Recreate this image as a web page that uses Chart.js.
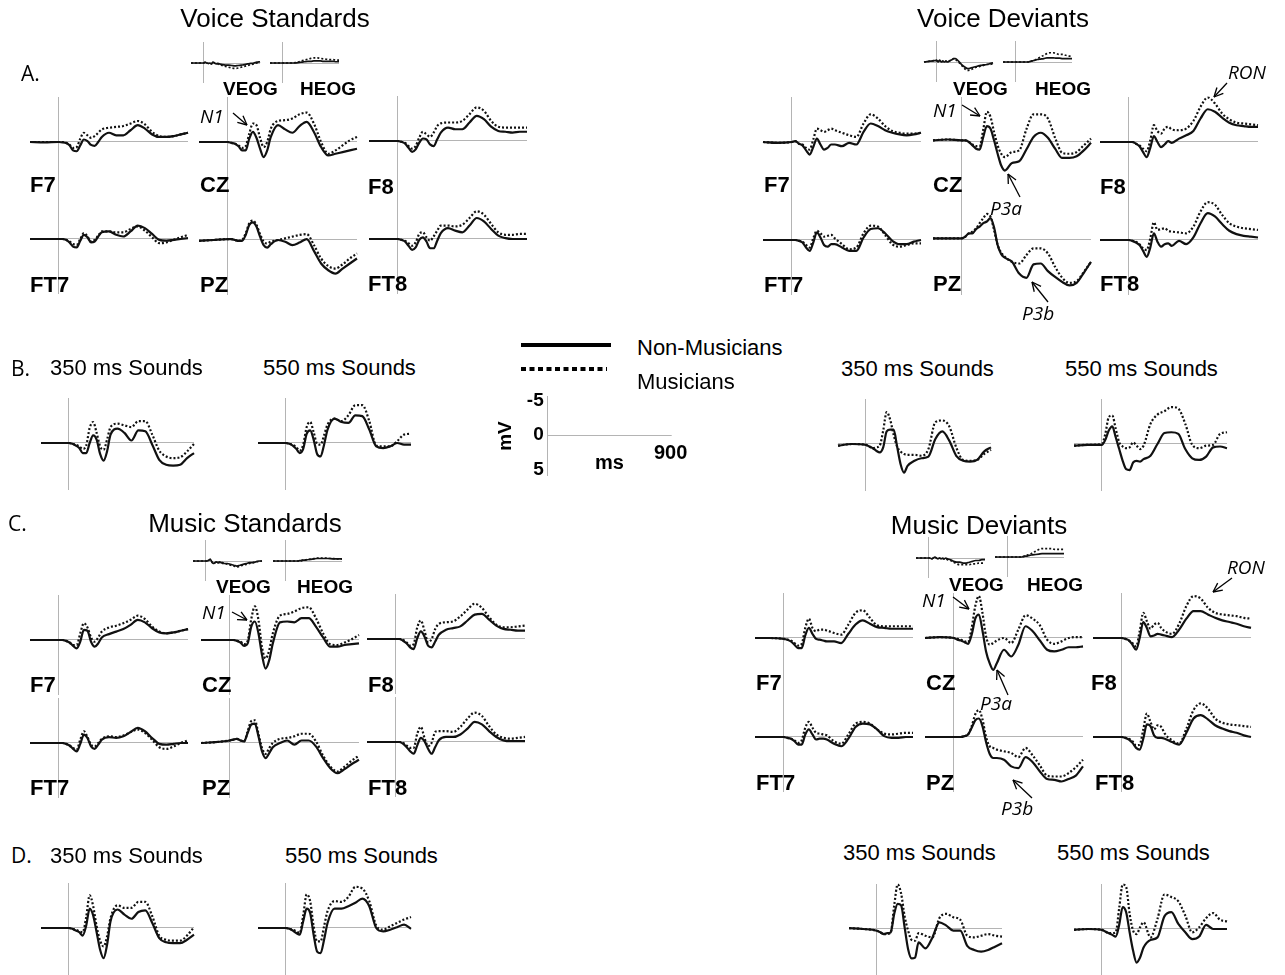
<!DOCTYPE html>
<html>
<head>
<meta charset="utf-8">
<script src="https://cdn.jsdelivr.net/npm/chart.js@4.4.0/dist/chart.umd.min.js"></script>
<style>
body { margin: 0; background: #fff; }
#page { position: relative; width: 1285px; height: 975px; overflow: hidden; font-family: "Liberation Sans", Arial, sans-serif; color: #000; }
#page canvas { position: absolute; }
.t { position: absolute; white-space: nowrap; line-height: 1; transform: translateY(-50%); }
.title { font-size: 26px; transform: translate(-50%, -50%); }
.sub { font-size: 22px; }
.letter { font-family: "Open Sans", sans-serif; font-size: 21px; }
.el { font-size: 22px; font-weight: bold; }
.eog { font-size: 19px; font-weight: bold; }
.ann { font-family: "Open Sans", sans-serif; font-style: italic; font-size: 19px; }
.bar { font-size: 20px; font-weight: bold; }
svg { position: absolute; left: 0; top: 0; }
</style>
</head>
<body>
<div id="page"></div>
<script>
// sample times (ms) shared by every waveform
const times = [-200, -100, 0, 25, 50, 75, 100, 125, 150, 175, 200, 225, 250, 275, 300, 350, 400, 450, 500, 550, 600, 650, 700, 750, 800, 850, 900];

// amplitudes in microvolts, negative up. Non = non-musicians (solid), Mus = musicians (dotted)
// Voice standards
const vsF7Non = [0, 0.05, 0, 0.05, 0.1, 0.4, 1.0, 1.1, 0.4, -0.3, -0.1, 0.35, 0.45, 0.0, -0.6, -1.1, -0.8, -0.8, -1.4, -2.0, -1.6, -0.9, -0.6, -0.6, -0.7, -0.9, -1.1];
const vsF7Mus = [0, 0, 0, 0, 0.1, 0.3, 0.7, 0.6, -0.4, -1.1, -0.8, -0.5, -0.7, -1.1, -1.5, -1.7, -1.8, -1.9, -2.2, -2.5, -2.1, -1.2, -0.7, -0.6, -0.7, -0.9, -1.1];
const vsCZNon = [0, 0, 0, 0.1, 0.2, 0.5, 1.0, 1.0, -0.4, -1.2, -0.5, 0.8, 1.8, 1.0, -0.6, -2.0, -1.5, -1.1, -1.9, -2.4, -1.2, 0.6, 1.6, 1.4, 1.2, 1.0, 0.8];
const vsCZMus = [0, 0, 0, 0.1, 0.2, 0.4, 0.7, 0.5, -1.0, -2.2, -2.0, -0.5, 0.6, 0.0, -1.6, -2.5, -2.6, -2.8, -3.3, -3.5, -2.2, 0.0, 1.4, 1.0, 0.4, -0.2, -0.6];
const vsF8Non = [0, 0, 0, 0.1, 0.3, 0.8, 1.3, 1.0, 0.2, -0.3, -0.2, 0.4, 0.6, -0.2, -1.0, -1.6, -1.4, -1.4, -2.2, -3.0, -2.6, -1.7, -1.2, -1.1, -1.0, -1.1, -1.1];
const vsF8Mus = [0, 0, 0, 0.1, 0.2, 0.6, 0.9, 0.6, -0.4, -1.1, -0.8, -0.5, -1.0, -1.8, -2.1, -2.2, -2.2, -2.4, -3.2, -4.0, -3.6, -2.4, -1.7, -1.6, -1.6, -1.6, -1.6];
const vsFT7Non = [0, 0, 0, 0, 0.1, 0.4, 0.9, 1.0, 0.2, -0.5, -0.2, 0.4, 0.3, -0.3, -0.8, -0.9, -0.5, -0.3, -0.9, -1.6, -1.3, -0.6, 0.1, 0.2, 0.1, 0.0, -0.1];
const vsFT7Mus = [0, 0, 0, 0, 0.1, 0.3, 0.6, 0.7, 0.0, -0.7, -0.3, 0.3, 0.1, -0.4, -0.9, -0.9, -0.8, -0.8, -1.2, -1.5, -1.0, -0.2, 0.5, 0.4, 0.1, -0.2, -0.5];
const vsPZNon = [0.1, 0, -0.1, -0.1, 0, 0.1, 0.1, -0.6, -1.8, -2.1, -1.6, -0.4, 0.6, 0.9, 0.5, 0.0, 0.2, 0.6, 0.3, -0.1, 1.3, 2.8, 3.6, 4.0, 3.4, 2.8, 2.2];
const vsPZMus = [0.1, 0, -0.1, -0.1, 0, 0.1, 0.0, -0.8, -2.0, -2.3, -1.8, -0.7, 0.2, 0.4, 0.2, 0.0, -0.2, -0.4, -0.6, -0.7, 0.6, 2.2, 3.1, 3.4, 2.9, 2.2, 1.6];
const vsFT8Non = [0, 0, 0, 0.1, 0.3, 0.8, 1.3, 1.0, 0.1, -0.2, 0.3, 1.1, 1.1, 0.2, -0.7, -1.3, -1.0, -0.8, -1.6, -2.5, -2.1, -1.2, -0.4, -0.1, 0, 0, 0];
const vsFT8Mus = [0, 0, 0, 0.1, 0.2, 0.5, 0.8, 0.4, -0.6, -0.8, -0.2, 0.2, -0.3, -1.0, -1.6, -1.6, -1.5, -1.7, -2.5, -3.3, -2.9, -1.8, -0.8, -0.5, -0.5, -0.6, -0.6];
const vsVEOGNon = [0, 0, 0, -0.1, 0, 0.05, 0, 0.1, -0.1, 0, 0.1, 0.05, 0.1, 0.15, 0.2, 0.25, 0.25, 0.3, 0.35, 0.3, 0.25, 0.2, 0.1, 0.05, 0, -0.1, -0.15];
const vsVEOGMus = [0, 0, 0, -0.1, 0, 0.05, 0, 0.1, -0.1, 0, 0.1, 0.1, 0.2, 0.25, 0.3, 0.4, 0.5, 0.6, 0.65, 0.6, 0.5, 0.4, 0.3, 0.2, 0.1, 0, -0.1];
const vsHEOGNon = [0, 0, 0, 0, 0, 0, 0, 0, 0, 0, 0, -0.02, -0.05, -0.08, -0.1, -0.15, -0.2, -0.2, -0.25, -0.25, -0.25, -0.2, -0.2, -0.2, -0.2, -0.15, -0.15];
const vsHEOGMus = [0, 0, 0, 0, 0, 0, 0, 0, 0, 0, -0.05, -0.07, -0.1, -0.18, -0.25, -0.35, -0.45, -0.55, -0.6, -0.6, -0.55, -0.5, -0.45, -0.4, -0.4, -0.35, -0.35];
const vsS350Non = [0, 0, 0, 0.1, 0.3, 0.6, 1.2, 1.2, 0.0, -0.9, -0.4, 1.3, 2.1, 1.0, -1.0, -1.7, -1.2, -0.3, -1.5, -1.4, 0.2, 2.0, 2.6, 2.7, 2.6, 1.8, 1.2];
const vsS350Mus = [0, 0, 0, 0.1, 0.2, 0.4, 0.7, 0.3, -1.8, -2.5, -1.2, 0.4, 0.8, -0.4, -1.9, -2.3, -2.1, -1.9, -2.6, -2.6, -1.0, 0.9, 1.6, 1.8, 1.7, 1.0, 0.1];
const vsS550Non = [0, 0, 0, 0.1, 0.3, 0.7, 1.2, 0.7, -1.1, -1.5, -0.4, 1.3, 1.6, 0.2, -1.6, -2.9, -2.5, -2.4, -3.3, -3.2, -1.6, 0.4, 0.6, 0.4, 0.0, 0.2, 0.2];
const vsS550Mus = [0, 0, 0, 0.1, 0.2, 0.5, 0.9, 0.2, -1.9, -2.5, -1.3, 0.1, 0.2, -0.9, -2.2, -2.9, -2.6, -3.3, -4.5, -4.5, -2.6, 0.3, 0.4, 0.4, -0.2, -1.0, -1.1];

// Voice deviants
const vdF7Non = [0, 0.1, 0, -0.1, 0.2, 0.4, 1.0, 1.5, 0.6, -0.4, 0.3, 0.9, 0.7, 0.3, 0.3, 0.5, 0.1, 0.3, -1.2, -2.2, -1.9, -1.4, -1.1, -0.9, -0.8, -0.9, -1.1];
const vdF7Mus = [0, 0.1, 0, -0.1, 0.2, 0.3, 0.7, 0.9, -0.3, -1.6, -1.4, -1.2, -1.4, -1.6, -1.4, -1.1, -0.8, -0.6, -2.2, -3.3, -2.8, -1.9, -1.3, -1.1, -1.0, -1.0, -1.1];
const vdCZNon = [-0.2, -0.3, -0.2, -0.2, 0.0, 0.4, 0.8, 0.9, -0.6, -1.9, -1.6, -0.2, 1.4, 2.8, 3.4, 2.5, 2.3, 0.9, -0.6, -1.1, -0.5, 0.8, 1.9, 1.9, 1.7, 1.0, 0.1];
const vdCZMus = [-0.2, -0.3, -0.2, -0.2, 0.0, 0.3, 0.5, 0.5, -1.5, -3.6, -3.0, -1.2, 0.4, 1.4, 1.8, 1.2, 1.0, -1.5, -3.3, -3.3, -2.8, -0.5, 1.3, 1.4, 1.2, 0.4, -0.4];
const vdF8Non = [0, 0, 0, 0, 0.2, 0.5, 1.2, 1.8, 0.7, -0.7, 0.0, 0.6, 0.3, -0.1, 0.1, -0.4, -0.8, -1.3, -2.8, -3.9, -3.6, -2.9, -2.3, -2.0, -1.9, -1.8, -1.8];
const vdF8Mus = [0, 0, 0, 0, 0.2, 0.4, 0.8, 1.1, -0.2, -2.0, -1.3, -1.0, -1.6, -1.8, -1.5, -1.4, -1.6, -2.5, -4.2, -5.3, -4.6, -3.4, -2.7, -2.3, -2.2, -2.1, -2.0];
const vdFT7Non = [0, 0, 0, 0, 0.1, 0.3, 0.9, 1.3, 0.3, -0.9, -0.3, 0.6, 0.8, 0.5, 0.5, 0.9, 1.3, 1.3, -0.3, -1.3, -1.4, -0.8, 0.1, 0.5, 0.5, 0.2, 0.0];
const vdFT7Mus = [0, 0, 0, 0, 0.1, 0.2, 0.6, 0.9, -0.2, -1.1, -0.8, -0.4, -0.5, -0.6, -0.2, 0.5, 1.1, 0.9, -0.8, -1.7, -1.6, -0.6, 0.5, 0.8, 0.6, 0.4, 0.4];
const vdPZNon = [-0.2, -0.2, -0.2, -0.4, -0.8, -0.8, -1.3, -1.6, -2.0, -2.2, -2.6, -1.5, 0.6, 1.7, 2.1, 2.6, 4.0, 4.5, 2.9, 2.8, 3.7, 4.4, 5.0, 5.4, 5.1, 3.9, 2.6];
const vdPZMus = [-0.2, -0.2, -0.2, -0.4, -0.8, -1.0, -1.4, -2.0, -2.6, -3.1, -2.8, -1.2, 0.6, 1.5, 2.0, 2.6, 2.8, 1.8, 1.0, 1.0, 1.6, 3.2, 4.5, 5.1, 4.9, 3.8, 2.6];
const vdFT8Non = [0, 0, 0, 0.1, 0.3, 0.6, 1.3, 2.0, 0.9, -0.8, 0.2, 0.8, 0.5, 0.4, 0.7, 0.1, 0.5, -0.3, -2.0, -3.2, -2.8, -1.9, -1.1, -0.7, -0.5, -0.4, -0.3];
const vdFT8Mus = [0, 0, 0, 0.1, 0.2, 0.5, 1.0, 1.2, -0.2, -2.1, -1.2, -1.3, -1.4, -1.1, -1.0, -0.9, -0.8, -1.6, -3.4, -4.5, -4.2, -3.0, -2.0, -1.6, -1.4, -1.3, -1.2];
const vdVEOGNon = [0, -0.1, -0.2, 0, -0.2, 0, -0.1, 0, -0.1, 0, -0.1, -0.2, -0.3, -0.4, -0.4, -0.1, 0.3, 0.6, 0.8, 0.7, 0.6, 0.5, 0.4, 0.35, 0.3, 0.2, 0.1];
const vdVEOGMus = [0, -0.1, -0.2, 0, -0.2, 0, -0.1, 0, -0.1, 0, -0.1, -0.2, -0.3, -0.4, -0.3, 0.0, 0.4, 0.8, 1.0, 0.9, 0.7, 0.6, 0.5, 0.4, 0.3, 0.3, 0.2];
const vdHEOGNon = [0, 0, 0, 0, 0, 0, 0, 0, 0, 0, 0, -0.05, -0.1, -0.15, -0.2, -0.3, -0.35, -0.4, -0.5, -0.5, -0.5, -0.45, -0.45, -0.4, -0.4, -0.4, -0.4];
const vdHEOGMus = [0, 0, 0, 0, 0, 0, 0, 0, 0, 0, 0, -0.05, -0.1, -0.15, -0.2, -0.4, -0.6, -0.8, -1.0, -1.1, -1.1, -1.0, -0.9, -0.9, -0.8, -0.7, -0.7];
const vdS350Non = [0.2, 0.0, 0.1, 0.3, 0.5, 0.8, 1.0, 0.4, -1.5, -1.7, -1.7, 0.3, 2.4, 3.4, 2.6, 2.0, 1.7, 1.5, -0.6, -1.5, -0.4, 1.4, 2.0, 2.1, 1.9, 0.9, 0.4];
const vdS350Mus = [0.2, 0, 0.1, 0.3, 0.5, 0.4, 0.2, -1.6, -3.8, -2.9, -1.1, 0.3, 0.9, 1.2, 1.3, 1.3, 1.4, 0.6, -2.6, -2.8, -2.1, 0.4, 1.9, 2.0, 1.9, 1.2, 0.7];
const vdS550Non = [0.2, 0.1, 0.1, -0.5, -1.6, -2.1, -0.8, 0.6, 2.0, 3.0, 3.1, 2.2, 2.0, 2.1, 1.8, 1.4, 0.0, -1.3, -1.4, -1.2, 0.6, 1.7, 1.9, 1.5, 0.4, 0.3, 0.5];
const vdS550Mus = [0.2, 0.1, 0.0, -1.2, -3.2, -3.4, -1.8, -0.2, 0.3, 0.5, 0.4, -0.2, 0.2, 0.6, 0.2, -2.4, -3.5, -3.9, -4.4, -4.2, -2.4, 0.1, 0.5, 0.2, 0.1, -1.2, -1.4];

// Music standards
const msF7Non = [0, 0, 0, 0, 0.1, 0.3, 0.7, 1.0, 0.2, -1.2, -1.1, 0.2, 0.8, 0.4, -0.3, -0.7, -1.0, -1.3, -1.8, -2.4, -2.1, -1.4, -0.9, -0.8, -0.9, -1.1, -1.3];
const msF7Mus = [0, 0, 0, 0, 0.1, 0.3, 0.6, 0.6, -0.8, -2.0, -1.5, -0.3, 0.2, -0.3, -1.0, -1.5, -1.7, -2.0, -2.4, -2.9, -2.5, -1.6, -1.0, -0.8, -0.9, -1.1, -1.3];
const msCZNon = [0, 0, 0, 0, 0.1, 0.3, 0.7, 0.4, -1.6, -2.2, -0.8, 1.8, 3.4, 2.4, 0.4, -2.1, -2.2, -2.1, -2.6, -2.6, -1.6, -0.3, 0.8, 0.8, 0.6, 0.5, 0.4];
const msCZMus = [0, 0, 0, 0, 0.1, 0.2, 0.5, 0.1, -2.5, -4.0, -2.4, 0.9, 2.2, 1.2, -0.8, -2.9, -3.1, -3.4, -3.8, -3.9, -2.6, -0.8, 0.5, 0.6, 0.3, -0.1, -0.6];
const msF8Non = [0, 0, 0, 0, 0.2, 0.5, 1.0, 1.2, -0.1, -0.9, -0.3, 0.8, 1.0, 0.3, -0.5, -1.1, -1.3, -1.5, -2.2, -2.9, -3.0, -2.3, -1.6, -1.2, -1.1, -1.0, -1.0];
const msF8Mus = [0, 0, 0, 0, 0.1, 0.4, 0.8, 0.6, -1.4, -2.2, -1.0, 0.4, 0.0, -1.2, -1.8, -2.0, -2.1, -2.7, -3.5, -4.2, -3.7, -2.6, -1.7, -1.4, -1.4, -1.5, -1.6];
const msFT7Non = [0, 0, 0, 0, 0.1, 0.3, 0.7, 1.0, 0.1, -1.0, -0.6, 0.4, 0.7, 0.2, -0.4, -0.7, -0.6, -0.8, -1.3, -1.8, -1.4, -0.6, 0.1, 0.2, 0.1, 0.0, 0.0];
const msFT7Mus = [0, 0, 0, 0, 0.1, 0.3, 0.6, 0.8, -0.4, -1.4, -0.7, 0.2, 0.4, 0.0, -0.5, -0.8, -0.7, -0.9, -1.3, -1.6, -1.2, -0.4, 0.5, 0.7, 0.4, 0.0, -0.3];
const msPZNon = [0, -0.1, -0.3, -0.4, -0.5, -0.3, -0.2, -1.2, -2.2, -2.3, -0.8, 1.0, 1.8, 1.2, 0.5, 0.0, -0.3, 0.2, -0.3, -0.3, 0.4, 1.8, 3.0, 3.6, 3.1, 2.5, 2.0];
const msPZMus = [0, -0.1, -0.3, -0.4, -0.5, -0.3, -0.2, -1.4, -2.6, -2.7, -1.1, 0.6, 1.3, 0.6, 0.0, -0.5, -0.6, -0.8, -1.1, -1.1, -0.2, 1.5, 2.8, 3.4, 2.8, 2.1, 1.5];
const msFT8Non = [0, 0, 0, 0, 0.2, 0.6, 1.1, 1.4, 0.4, -0.5, -0.1, 0.8, 1.4, 0.6, -0.2, -0.6, -0.6, -0.9, -1.6, -2.4, -2.1, -1.3, -0.6, -0.2, -0.1, -0.1, -0.1];
const msFT8Mus = [0, 0, 0, 0, 0.1, 0.4, 0.7, 0.7, -1.0, -1.8, -0.5, 0.5, 0.1, -1.2, -1.3, -1.3, -1.2, -1.8, -2.8, -3.5, -3.1, -1.9, -0.9, -0.5, -0.4, -0.5, -0.6];
const msVEOGNon = [0, 0, 0, 0, -0.1, -0.2, 0.1, 0.3, 0.2, 0.1, 0.2, 0.1, 0.2, 0.2, 0.3, 0.3, 0.4, 0.5, 0.6, 0.5, 0.4, 0.3, 0.2, 0.2, 0.1, 0, 0];
const msVEOGMus = [0, 0, 0, 0, -0.1, -0.2, 0.1, 0.3, 0.2, 0.1, 0.2, 0.2, 0.2, 0.3, 0.3, 0.4, 0.5, 0.6, 0.7, 0.6, 0.5, 0.4, 0.3, 0.2, 0.1, 0.05, 0];
const msHEOGNon = [0, 0, 0, 0, 0, 0, 0, 0, 0, 0, 0, -0.05, -0.05, -0.1, -0.1, -0.15, -0.2, -0.25, -0.3, -0.3, -0.3, -0.3, -0.3, -0.25, -0.25, -0.25, -0.25];
const msHEOGMus = [0, 0, 0, 0, 0, 0, 0, 0, 0, 0, 0, -0.05, -0.05, -0.1, -0.12, -0.18, -0.22, -0.28, -0.35, -0.35, -0.35, -0.35, -0.3, -0.3, -0.25, -0.25, -0.25];
const msS350Non = [0, 0, 0, 0.1, 0.3, 0.5, 0.9, -0.3, -2.3, -1.5, 0.5, 2.6, 3.6, 2.0, -0.8, -2.2, -1.6, -1.1, -1.9, -2.1, -0.6, 1.2, 1.7, 1.8, 1.8, 1.4, 0.8];
const msS350Mus = [0, 0, 0, 0.1, 0.2, 0.4, 0.5, -1.3, -3.9, -2.6, -0.2, 1.5, 2.2, 1.0, -1.2, -2.7, -2.4, -2.4, -3.1, -3.1, -1.4, 0.9, 1.4, 1.5, 1.5, 0.9, -0.1];
const msS550Non = [0, 0, 0, 0.1, 0.3, 0.6, 0.8, -0.8, -2.3, -1.8, 0.8, 2.8, 3.0, 1.4, -0.6, -2.3, -2.3, -2.6, -3.0, -3.5, -2.6, 0.0, 0.4, 0.2, -0.1, -0.4, 0.1];
const msS550Mus = [0, 0, 0, 0.1, 0.2, 0.4, 0.6, -1.5, -4.0, -3.2, -0.2, 1.6, 1.6, -0.2, -2.0, -3.2, -3.1, -3.7, -4.9, -4.7, -3.2, -0.3, 0.2, -0.2, -0.6, -1.0, -1.3];

// Music deviants
const mdF7Non = [0, 0, 0.1, 0.2, 0.4, 0.8, 1.2, 1.2, -0.3, -1.2, -0.5, 0.1, 0.2, 0.3, 0.4, 0.4, 0.6, -0.5, -1.6, -2.1, -1.7, -1.3, -1.2, -1.1, -1.1, -1.1, -1.1];
const mdF7Mus = [0, 0, 0.1, 0.2, 0.3, 0.6, 0.9, 0.7, -1.2, -2.3, -1.2, -0.8, -1.0, -1.0, -0.9, -0.6, -0.4, -1.6, -3.0, -3.3, -2.4, -1.5, -1.4, -1.4, -1.4, -1.4, -1.4];
const mdCZNon = [0, -0.1, 0, 0.2, 0.3, 0.5, 0.7, -0.4, -2.3, -2.8, -0.9, 1.6, 3.0, 3.8, 3.0, 1.4, 2.2, 0.8, -1.4, -0.8, 0.3, 1.4, 1.6, 1.4, 1.1, 1.1, 1.0];
const mdCZMus = [0, -0.1, 0, 0.1, 0.2, 0.4, 0.5, -1.2, -3.8, -5.0, -3.0, -0.2, 0.8, 0.6, 0.3, 0.0, 0.6, -1.0, -2.7, -2.3, -1.5, 0.2, 0.7, 0.4, 0.0, -0.1, -0.1];
const mdF8Non = [0, 0, 0, 0.1, 0.3, 0.8, 1.4, 0.0, -1.9, -1.2, -0.2, -0.3, -0.5, -0.4, -0.3, -0.1, -1.0, -2.3, -3.2, -3.2, -2.8, -2.4, -2.1, -1.9, -1.7, -1.4, -1.2];
const mdF8Mus = [0, 0, 0, 0.1, 0.3, 0.6, 1.0, -0.8, -3.0, -2.0, -1.1, -1.6, -1.8, -1.2, -0.8, -0.5, -1.7, -3.8, -5.0, -4.7, -3.6, -3.0, -2.8, -2.7, -2.6, -2.4, -2.3];
const mdFT7Non = [0, 0, 0, 0.1, 0.2, 0.5, 0.9, 0.9, -0.3, -0.9, -0.3, 0.3, 0.2, 0.2, 0.3, 0.8, 1.1, 0.2, -1.2, -1.6, -1.5, -0.9, -0.1, 0.1, 0.1, 0.0, 0.0];
const mdFT7Mus = [0, 0, 0, 0.1, 0.2, 0.4, 0.7, 0.4, -1.1, -1.8, -1.1, -0.5, -0.4, -0.3, -0.2, 0.5, 0.8, -0.3, -1.6, -1.8, -1.6, -0.9, -0.4, -0.3, -0.4, -0.5, -0.5];
const mdPZNon = [0, 0, 0, 0, 0, -0.1, -0.3, -1.1, -2.0, -2.2, -1.3, 0.6, 2.0, 2.5, 2.5, 2.7, 3.5, 3.7, 2.4, 3.0, 4.1, 5.0, 5.1, 5.3, 5.0, 4.6, 3.5];
const mdPZMus = [0, 0, 0, 0, 0, -0.1, -0.3, -1.3, -2.7, -3.2, -2.1, 0.0, 1.1, 1.3, 1.5, 1.7, 1.9, 2.4, 1.3, 2.2, 3.4, 4.6, 4.7, 4.7, 4.3, 3.6, 2.7];
const mdFT8Non = [0, 0, 0, 0.1, 0.3, 0.7, 1.3, 1.5, 0.2, -1.5, -1.3, -0.2, 0.1, 0.1, 0.2, 0.6, 0.9, -0.5, -2.2, -2.6, -2.1, -1.4, -1.0, -0.7, -0.5, -0.2, 0.0];
const mdFT8Mus = [0, 0, 0, 0.1, 0.2, 0.5, 1.0, 0.9, -0.9, -2.8, -1.8, -0.9, -1.4, -1.2, -0.4, 0.4, 0.8, -1.0, -3.2, -4.0, -3.4, -2.2, -1.7, -1.5, -1.4, -1.3, -1.2];
const mdVEOGNon = [0, 0, 0, 0, 0.1, 0, -0.1, 0, 0.1, 0, 0.1, 0, 0.1, 0, 0.1, 0.2, 0.4, 0.5, 0.5, 0.6, 0.6, 0.5, 0.4, 0.3, 0.3, 0.2, 0.2];
const mdVEOGMus = [0, 0, 0, 0, 0.1, 0, -0.1, 0, 0.1, 0, 0.1, 0.1, 0.1, 0.1, 0.2, 0.3, 0.5, 0.7, 0.8, 0.8, 0.8, 0.8, 0.7, 0.7, 0.6, 0.6, 0.6];
const mdHEOGNon = [0, 0, 0, 0, 0, 0, 0, 0, 0, 0, 0, 0, -0.05, -0.1, -0.1, -0.2, -0.25, -0.3, -0.35, -0.4, -0.4, -0.4, -0.4, -0.4, -0.4, -0.4, -0.4];
const mdHEOGMus = [0, 0, 0, 0, 0, 0, 0, 0, 0, 0, 0, 0, -0.05, -0.1, -0.2, -0.3, -0.5, -0.7, -0.9, -1.0, -1.0, -1.0, -1.0, -0.9, -0.9, -0.9, -0.9];
const mdS350Non = [-0.1, 0.0, 0.2, 0.4, 0.6, 0.5, 0.4, -1.8, -3.0, -2.8, -0.2, 2.4, 3.5, 3.4, 1.6, 2.3, 1.0, -0.8, -0.4, 0.2, 0.2, 2.0, 2.5, 2.7, 2.5, 2.1, 1.7];
const mdS350Mus = [-0.1, 0.0, 0.2, 0.4, 0.6, 0.6, 0.4, -2.8, -5.3, -4.2, -1.5, 0.2, 1.3, 1.4, 0.5, 0.8, 1.0, -1.3, -1.8, -1.4, -1.1, 0.8, 1.0, 0.8, 0.6, 0.8, 0.9];
const mdS550Non = [0.1, 0.0, 0.1, 0.3, 0.5, 0.7, 0.9, -0.5, -2.6, -2.0, 0.4, 2.6, 4.0, 3.4, 2.2, 1.3, 1.0, -1.5, -2.0, -0.6, 0.4, 1.2, 0.9, -0.5, 0.0, 0.0, 0.0];
const mdS550Mus = [0.1, 0.0, 0.1, 0.3, 0.5, 0.5, 0.4, -2.5, -5.3, -5.0, -1.8, 0.2, 0.6, -0.2, -0.8, 1.0, -1.2, -4.1, -3.8, -3.3, -1.6, 0.4, -0.2, -1.3, -1.9, -1.1, -0.9];

// calibration bar ticks
const barTicks = [-5, 0, 5];

// panel geometry: px per ms, px above / below the baseline (vertical marker length)
const PX_PER_UV = 8.4;
const kinds = {
    main:  { pxPerMs: 0.1433, up: 45, down: 55, lw: 2.2 },
    sound: { pxPerMs: 0.139,  up: 45, down: 47, lw: 2.2 },
    eog:   { pxPerMs: 0.0628, up: 21, down: 20, lw: 1.7 }
};

// x = stimulus onset line, y = baseline
const panels = [
    // Voice Standards
    { x: 204, y: 63,  kind: 'eog',   non: vsVEOGNon, mus: vsVEOGMus },
    { x: 283, y: 63,  kind: 'eog',   non: vsHEOGNon, mus: vsHEOGMus },
    { x: 59,  y: 142, kind: 'main',  non: vsF7Non,  mus: vsF7Mus },
    { x: 228, y: 142, kind: 'main',  non: vsCZNon,  mus: vsCZMus },
    { x: 398, y: 141, kind: 'main',  non: vsF8Non,  mus: vsF8Mus },
    { x: 59,  y: 239, kind: 'main',  non: vsFT7Non, mus: vsFT7Mus },
    { x: 228, y: 240, kind: 'main',  non: vsPZNon,  mus: vsPZMus },
    { x: 398, y: 239, kind: 'main',  non: vsFT8Non, mus: vsFT8Mus },
    { x: 69,  y: 443, kind: 'sound', non: vsS350Non, mus: vsS350Mus },
    { x: 286, y: 443, kind: 'sound', non: vsS550Non, mus: vsS550Mus },
    // Voice Deviants
    { x: 937,  y: 62,  kind: 'eog',   non: vdVEOGNon, mus: vdVEOGMus },
    { x: 1016, y: 62,  kind: 'eog',   non: vdHEOGNon, mus: vdHEOGMus },
    { x: 792,  y: 142, kind: 'main',  non: vdF7Non,  mus: vdF7Mus },
    { x: 962,  y: 142, kind: 'main',  non: vdCZNon,  mus: vdCZMus },
    { x: 1129, y: 142, kind: 'main',  non: vdF8Non,  mus: vdF8Mus },
    { x: 792,  y: 240, kind: 'main',  non: vdFT7Non, mus: vdFT7Mus },
    { x: 962,  y: 240, kind: 'main',  non: vdPZNon,  mus: vdPZMus },
    { x: 1129, y: 240, kind: 'main',  non: vdFT8Non, mus: vdFT8Mus },
    { x: 866,  y: 444, kind: 'sound', non: vdS350Non, mus: vdS350Mus },
    { x: 1102, y: 444, kind: 'sound', non: vdS550Non, mus: vdS550Mus },
    // Music Standards
    { x: 206, y: 561, kind: 'eog',   non: msVEOGNon, mus: msVEOGMus },
    { x: 286, y: 561, kind: 'eog',   non: msHEOGNon, mus: msHEOGMus },
    { x: 59,  y: 640, kind: 'main',  non: msF7Non,  mus: msF7Mus },
    { x: 230, y: 640, kind: 'main',  non: msCZNon,  mus: msCZMus },
    { x: 396, y: 639, kind: 'main',  non: msF8Non,  mus: msF8Mus },
    { x: 59,  y: 743, kind: 'main',  non: msFT7Non, mus: msFT7Mus },
    { x: 230, y: 743, kind: 'main',  non: msPZNon,  mus: msPZMus },
    { x: 396, y: 742, kind: 'main',  non: msFT8Non, mus: msFT8Mus },
    { x: 69,  y: 928, kind: 'sound', non: msS350Non, mus: msS350Mus },
    { x: 286, y: 928, kind: 'sound', non: msS550Non, mus: msS550Mus },
    // Music Deviants
    { x: 929,  y: 558, kind: 'eog',   non: mdVEOGNon, mus: mdVEOGMus },
    { x: 1008, y: 557, kind: 'eog',   non: mdHEOGNon, mus: mdHEOGMus },
    { x: 784,  y: 638, kind: 'main',  non: mdF7Non,  mus: mdF7Mus },
    { x: 954,  y: 638, kind: 'main',  non: mdCZNon,  mus: mdCZMus },
    { x: 1122, y: 638, kind: 'main',  non: mdF8Non,  mus: mdF8Mus },
    { x: 784,  y: 737, kind: 'main',  non: mdFT7Non, mus: mdFT7Mus },
    { x: 954,  y: 737, kind: 'main',  non: mdPZNon,  mus: mdPZMus },
    { x: 1122, y: 737, kind: 'main',  non: mdFT8Non, mus: mdFT8Mus },
    { x: 877,  y: 929, kind: 'sound', non: mdS350Non, mus: mdS350Mus },
    { x: 1102, y: 929, kind: 'sound', non: mdS550Non, mus: mdS550Mus }
];

const texts = [
    ['Voice Standards', 275, 18, 'title'],
    ['Voice Deviants', 1003, 18, 'title'],
    ['Music Standards', 245, 523, 'title'],
    ['Music Deviants', 979, 525, 'title'],
    ['A.', 21, 73, 'letter'], ['B.', 11, 368, 'letter'], ['C.', 8, 523, 'letter'], ['D.', 11, 855, 'letter'],
    ['350 ms Sounds', 50, 368, 'sub'], ['550 ms Sounds', 263, 368, 'sub'],
    ['350 ms Sounds', 841, 369, 'sub'], ['550 ms Sounds', 1065, 369, 'sub'],
    ['350 ms Sounds', 50, 856, 'sub'], ['550 ms Sounds', 285, 856, 'sub'],
    ['350 ms Sounds', 843, 853, 'sub'], ['550 ms Sounds', 1057, 853, 'sub'],
    ['Non-Musicians', 637, 348, 'sub'], ['Musicians', 637, 382, 'sub'],
    ['ms', 595, 462, 'bar'], ['900', 654, 452, 'bar'],
    ['VEOG', 223, 88, 'eog'], ['HEOG', 300, 88, 'eog'],
    ['VEOG', 953, 88, 'eog'], ['HEOG', 1035, 88, 'eog'],
    ['VEOG', 216, 586, 'eog'], ['HEOG', 297, 586, 'eog'],
    ['VEOG', 949, 584, 'eog'], ['HEOG', 1027, 584, 'eog'],
    ['F7', 30, 185, 'el'], ['CZ', 200, 185, 'el'], ['F8', 368, 187, 'el'],
    ['FT7', 30, 285, 'el'], ['PZ', 200, 285, 'el'], ['FT8', 368, 284, 'el'],
    ['F7', 764, 185, 'el'], ['CZ', 933, 185, 'el'], ['F8', 1100, 187, 'el'],
    ['FT7', 764, 285, 'el'], ['PZ', 933, 284, 'el'], ['FT8', 1100, 284, 'el'],
    ['F7', 30, 685, 'el'], ['CZ', 202, 685, 'el'], ['F8', 368, 685, 'el'],
    ['FT7', 30, 788, 'el'], ['PZ', 202, 788, 'el'], ['FT8', 368, 788, 'el'],
    ['F7', 756, 683, 'el'], ['CZ', 926, 683, 'el'], ['F8', 1091, 683, 'el'],
    ['FT7', 756, 783, 'el'], ['PZ', 926, 783, 'el'], ['FT8', 1095, 783, 'el'],
    ['N1', 200, 116, 'ann'],
    ['N1', 933, 110, 'ann'], ['RON', 1228, 72, 'ann'], ['P3a', 990, 208, 'ann'], ['P3b', 1022, 313, 'ann'],
    ['N1', 202, 612, 'ann'],
    ['N1', 922, 600, 'ann'], ['RON', 1227, 567, 'ann'], ['P3a', 980, 703, 'ann'], ['P3b', 1001, 808, 'ann']
];

// annotation arrows: tail x, tail y, head x, head y
const arrows = [
    [233, 113, 247, 125],
    [962, 105, 980, 116], [1227, 83, 1214, 97], [1020, 197, 1008, 174], [1048, 302, 1032, 282],
    [232, 612, 247, 620],
    [953, 597, 969, 609], [1232, 578, 1213, 592], [1008, 695, 997, 670], [1032, 798, 1013, 780]
];

const page = document.getElementById('page');
const PAD = 14;
const GRID = '#b4b4b4';

function toPoints(vals) {
    return times.map((t, i) => ({ x: t, y: vals[i] }));
}

function addPanel(p) {
    const k = kinds[p.kind];
    const w = 1100 * k.pxPerMs;
    const h = k.up + k.down;
    const canvas = document.createElement('canvas');
    canvas.width = Math.round(w + 2 * PAD);
    canvas.height = Math.round(h + 2 * PAD);
    page.appendChild(canvas);
    const onlyZero = scale => { scale.ticks = [{ value: 0 }]; };
    const chart = new Chart(canvas.getContext('2d'), {
        type: 'line',
        data: {
            datasets: [
                {
                    data: toPoints(p.mus),
                    borderColor: '#111',
                    borderWidth: k.lw,
                    borderDash: [2, 2],
                    pointRadius: 0,
                    cubicInterpolationMode: 'monotone',
                    clip: false
                },
                {
                    data: toPoints(p.non),
                    borderColor: '#111',
                    borderWidth: k.lw,
                    pointRadius: 0,
                    cubicInterpolationMode: 'monotone',
                    clip: false
                }
            ]
        },
        options: {
            responsive: false,
            animation: false,
            events: [],
            layout: { padding: PAD },
            plugins: { legend: { display: false }, tooltip: { enabled: false } },
            scales: {
                x: {
                    type: 'linear', min: -200, max: 900,
                    afterBuildTicks: onlyZero,
                    ticks: { display: false },
                    grid: { color: GRID, lineWidth: 1, drawTicks: false },
                    border: { display: false }
                },
                y: {
                    type: 'linear', reverse: true,
                    min: -k.up / PX_PER_UV, max: k.down / PX_PER_UV,
                    afterBuildTicks: onlyZero,
                    ticks: { display: false },
                    grid: { color: GRID, lineWidth: 1, drawTicks: false },
                    border: { display: false }
                }
            }
        }
    });
    canvas.style.left = (p.x - chart.scales.x.getPixelForValue(0)) + 'px';
    canvas.style.top = (p.y - chart.scales.y.getPixelForValue(0)) + 'px';
}

panels.forEach(addPanel);

// calibration bar: -5..5 microvolts, 0..900 ms
(function () {
    const canvas = document.createElement('canvas');
    canvas.width = 220;
    canvas.height = 110;
    page.appendChild(canvas);
    const chart = new Chart(canvas.getContext('2d'), {
        type: 'line',
        data: { datasets: [] },
        options: {
            responsive: false,
            animation: false,
            events: [],
            layout: { padding: { top: 10, bottom: 12, left: 0, right: 0 } },
            plugins: { legend: { display: false }, tooltip: { enabled: false } },
            scales: {
                x: {
                    type: 'linear', min: 0, max: 900,
                    ticks: { display: false },
                    grid: { display: false, drawTicks: false },
                    border: { display: false }
                },
                y: {
                    type: 'linear', reverse: true, min: -43 / 7.6, max: 45 / 7.6,
                    afterBuildTicks: scale => { scale.ticks = barTicks.map(v => ({ value: v })); },
                    ticks: { color: '#000', font: { family: 'Liberation Sans', size: 19, weight: 'bold' }, padding: 4 },
                    grid: { color: c => (c.tick && c.tick.value === 0 ? GRID : 'rgba(0,0,0,0)'), drawTicks: false },
                    border: { display: true, color: GRID, width: 1 },
                    title: { display: true, text: 'mV', color: '#000', font: { family: 'Liberation Sans', size: 19, weight: 'bold' }, padding: { top: 0, bottom: 6 } }
                }
            }
        }
    });
    // shrink the plot so that 900 ms spans 124 px
    const area = chart.chartArea;
    chart.options.layout.padding.right = Math.max(0, area.right - (area.left + 124));
    chart.update();
    canvas.style.left = (548 - chart.scales.x.getPixelForValue(0)) + 'px';
    canvas.style.top = (435 - chart.scales.y.getPixelForValue(0)) + 'px';
})();

texts.forEach(([txt, x, y, cls]) => {
    const d = document.createElement('div');
    d.className = 't ' + cls;
    d.textContent = txt;
    d.style.left = x + 'px';
    d.style.top = y + 'px';
    page.appendChild(d);
});

// legend samples and annotation arrows
const NS = 'http://www.w3.org/2000/svg';
const svg = document.createElementNS(NS, 'svg');
svg.setAttribute('width', 1285);
svg.setAttribute('height', 975);
page.appendChild(svg);

function line(x1, y1, x2, y2, w, dash) {
    const l = document.createElementNS(NS, 'line');
    l.setAttribute('x1', x1); l.setAttribute('y1', y1);
    l.setAttribute('x2', x2); l.setAttribute('y2', y2);
    l.setAttribute('stroke', '#000');
    l.setAttribute('stroke-width', w);
    if (dash) l.setAttribute('stroke-dasharray', dash);
    svg.appendChild(l);
}

line(521, 345, 611, 345, 4);
line(521, 369, 607, 369, 4, '5 3.5');

arrows.forEach(([x1, y1, x2, y2]) => {
    line(x1, y1, x2, y2, 1.3);
    const a = Math.atan2(y2 - y1, x2 - x1);
    const len = 10, spread = 0.45;
    line(x2, y2, x2 - len * Math.cos(a - spread), y2 - len * Math.sin(a - spread), 1.3);
    line(x2, y2, x2 - len * Math.cos(a + spread), y2 - len * Math.sin(a + spread), 1.3);
});
</script>
</body>
</html>
